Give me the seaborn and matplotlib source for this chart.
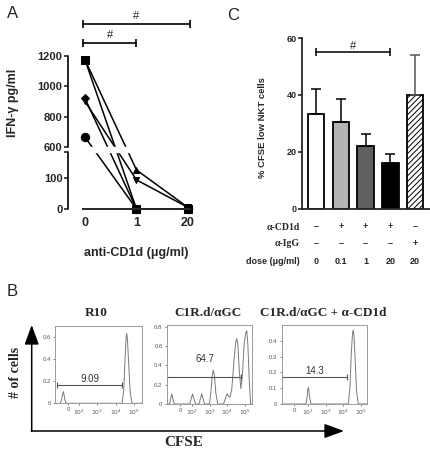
import numpy as np
import pandas as pd
import seaborn as sns
import matplotlib
matplotlib.use("Agg")
import matplotlib.pyplot as plt

# ---------------- data ----------------
# Panel A: IFN-gamma (pg/ml) per donor at anti-CD1d 0, 1, 20 ug/ml
doses_a = ["0", "1", "20"]
ifn_square = [1175, 0, 0]
ifn_up = [1175, 126, 5]
ifn_diamond = [920, 0, 0]
ifn_down = [900, 94, 5]
ifn_circle = [665, 0, 0]

# Panel C: % CFSE low NKT cells
conditions_c = ["0", "0.1", "1", "20", "IgG20"]
cfse_mean = [33.2, 30.6, 22.1, 15.9, 40.0]
cfse_sem = [8.8, 7.9, 4.1, 3.3, 13.9]
row_cd1d = ["\u2013", "+", "+", "+", "\u2013"]
row_igg = ["\u2013", "\u2013", "\u2013", "\u2013", "+"]
row_dose = ["0", "0.1", "1", "20", "20"]

# Panel B: CFSE histograms (x in decade units, y = fraction of cells)
r10_x = [0.69, 0.98, 1.05, 1.10, 1.14, 1.18, 1.23, 1.30, 4.36, 4.45, 4.52, 4.58, 4.61,
         4.65, 4.72, 4.80, 4.90, 5.43]
r10_y = [0, 0, 0.03, 0.08, 0.105, 0.08, 0.03, 0, 0, 0.12, 0.40, 0.60, 0.63,
         0.58, 0.35, 0.10, 0, 0]
gc_x = [0.54, 0.70, 0.76, 0.83, 0.90, 0.97, 1.85, 1.93, 2.02, 2.10, 2.18, 2.38, 2.46,
        2.54, 2.62, 2.70, 2.98, 3.06, 3.14, 3.20, 3.26, 3.34, 3.45, 3.78, 3.88, 3.95,
        4.00, 4.07, 4.15, 4.25, 4.38, 4.48, 4.54, 4.60, 4.68, 4.77, 4.86, 4.96, 5.05,
        5.11, 5.17, 5.25, 5.33, 5.39]
gc_y = [0, 0, 0.05, 0.105, 0.05, 0, 0, 0.05, 0.105, 0.05, 0, 0, 0.05,
        0.105, 0.05, 0, 0, 0.12, 0.30, 0.35, 0.30, 0.12, 0, 0, 0.05, 0.09,
        0.105, 0.08, 0.07, 0.15, 0.45, 0.64, 0.68, 0.62, 0.35, 0.16, 0.30, 0.62, 0.74,
        0.76, 0.62, 0.25, 0, 0]
ab_x = [0.48, 1.86, 1.93, 1.97, 2.00, 2.03, 2.08, 2.15, 4.29, 4.38, 4.46, 4.53, 4.57,
        4.61, 4.68, 4.76, 4.86, 5.34]
ab_y = [0, 0, 0.04, 0.09, 0.105, 0.09, 0.04, 0, 0, 0.10, 0.32, 0.45, 0.468,
        0.44, 0.28, 0.08, 0, 0]
hist_titles = ["R10", "C1R.d/\u03b1GC", "C1R.d/\u03b1GC + \u03b1-CD1d"]
gate_values = ["9.09", "64.7", "14.3"]
gate_ranges = [(0.81, 4.33, 0.165), (0.57, 4.77, 0.277), (0.51, 4.19, 0.17)]

# ---------------- style ----------------
sns.set_style("ticks")
plt.rcParams["font.family"] = ["Liberation Sans", "DejaVu Sans"]
plt.rcParams["hatch.linewidth"] = 0.7

W, H = 431, 451
fig = plt.figure(figsize=(W / 100, H / 100), dpi=100)


def rect(l, t, r, b):
    return [l / W, 1 - b / H, (r - l) / W, (b - t) / H]


# overlay in pixel coordinates for panel letters, arrows and free labels
ov = fig.add_axes([0, 0, 1, 1], zorder=-1)
ov.set_xlim(0, W)
ov.set_ylim(H, 0)
ov.axis("off")
ov.patch.set_alpha(0)

for letter, (lx, ly) in zip("ABC", [(13, 13), (12, 291), (233, 15)]):
    ov.text(lx, ly, letter, fontsize=12, ha="center", va="center")

# ---------------- panel A ----------------
ax_a = fig.add_axes(rect(68, 56, 195, 209))
brk_val = [-1000, 0, 184, 600, 1200, 3000]
brk_px = [-310, 0, 57, 62, 153, 426]


def fwd(v):
    return np.interp(v, brk_val, brk_px)


def inv(p):
    return np.interp(p, brk_px, brk_val)


ax_a.set_yscale("function", functions=(fwd, inv))

series_a = {"circle": ifn_circle, "diamond": ifn_diamond, "down": ifn_down,
            "up": ifn_up, "square": ifn_square}
rows = []
for name, vals in series_a.items():
    for i, v in enumerate(vals):
        rows.append({"donor": name, "pos": i, "ifn": v})
df_a = pd.DataFrame(rows)
sns.lineplot(data=df_a, x="pos", y="ifn", hue="donor", style="donor",
             markers={"circle": "o", "diamond": "D", "down": "v", "up": "^", "square": "s"},
             dashes=False, palette=["black"] * 5, markersize=6, linewidth=1.1,
             markeredgecolor="black", legend=False, ax=ax_a)
for ln in ax_a.lines:
    ln.set_clip_on(False)
    if ln.get_marker() == "D":
        ln.set_markersize(4.5)
    if ln.get_marker() in ("^", "v"):
        ln.set_markersize(5)

ax_a.axhspan(184, 600, color="white", zorder=3)
ax_a.set_xlim(-0.33, 2.136)
ax_a.set_ylim(0, 1200)
ax_a.set_yticks([0, 100, 184, 600, 800, 1000, 1200])
ax_a.set_yticklabels(["0", "100", "", "600", "800", "1000", "1200"])
ax_a.set_xticks([0, 1, 2])
ax_a.set_xticklabels(doses_a)
ax_a.tick_params(axis="x", length=0, pad=6, labelsize=9)
ax_a.tick_params(axis="y", length=3, width=1.2, pad=1, labelsize=8)
for t in ax_a.get_xticklabels() + ax_a.get_yticklabels():
    t.set_fontweight("bold")
ax_a.spines["left"].set_visible(False)
ax_a.spines["right"].set_visible(False)
ax_a.spines["top"].set_visible(False)
ax_a.spines["bottom"].set_bounds(-0.04, 2.04)
ax_a.spines["bottom"].set_linewidth(1.4)
ytr = ax_a.get_yaxis_transform()
ax_a.plot([0, 0], [0, 184], color="black", lw=1.2, transform=ytr, clip_on=False, zorder=4)
ax_a.plot([0, 0], [600, 1200], color="black", lw=1.2, transform=ytr, clip_on=False, zorder=4)
ax_a.set_xlabel("")
ax_a.set_ylabel("")

xtr = ax_a.get_xaxis_transform()
for x0, x1, yb, yt in [(-0.04, 2.04, 1.209, 1.26), (-0.04, 1.0, 1.085, 1.135)]:
    ax_a.plot([x0, x1], [yb, yb], color="black", lw=1.2, marker="|", markersize=6,
              markeredgewidth=1.2, transform=xtr, clip_on=False)
    ax_a.text((x0 + x1) / 2, yt, "#", fontsize=8, ha="center", va="center", transform=xtr)

ov.text(13, 103, "IFN-\u03b3 pg/ml", rotation=90, fontsize=9, fontweight="bold",
        ha="center", va="center")
ov.text(136, 253, "anti-CD1d (\u03bcg/ml)", fontsize=9, fontweight="bold",
        ha="center", va="center")

# ---------------- panel C ----------------
ax_c = fig.add_axes(rect(302, 38, 430, 208.7))
bar_colors = ["white", "#b4b4b4", "#606060", "black", "white"]
df_c = pd.DataFrame({"cond": conditions_c, "val": cfse_mean})
sns.barplot(data=df_c, x="cond", y="val", hue="cond", palette=bar_colors, width=0.665,
            edgecolor="black", linewidth=1.3, legend=False, ax=ax_c)
ax_c.patches[4].set_hatch("//////")
err_colors = ["black", "black", "black", "black", "#555555"]
for i, (m, s) in enumerate(zip(cfse_mean, cfse_sem)):
    ax_c.errorbar(i, m, yerr=[[0], [s]], color=err_colors[i], lw=1.1, capsize=3.5,
                  capthick=1.1, zorder=1)
ax_c.set_xlim(-0.565, 4.6)
ax_c.set_ylim(0, 60)
ax_c.set_yticks([0, 20, 40, 60])
ax_c.set_xticks([])
ax_c.set_xlabel("")
ax_c.set_ylabel("")
ax_c.tick_params(axis="y", length=3, width=1.2, pad=1, labelsize=6.5)
for t in ax_c.get_yticklabels():
    t.set_fontweight("bold")
sns.despine(ax=ax_c)
ax_c.spines["left"].set_linewidth(1.3)
ax_c.spines["bottom"].set_linewidth(1.3)
ctr = ax_c.get_xaxis_transform()
ax_c.plot([0, 3], [0.917, 0.917], color="black", lw=1.1, marker="|", markersize=6,
          markeredgewidth=1.1, transform=ctr, clip_on=False)
ax_c.text(1.5, 0.955, "#", fontsize=8, ha="center", va="center", transform=ctr)
ov.text(263, 128, "% CFSE low NKT cells", rotation=90, fontsize=6.8, fontweight="bold",
        ha="center", va="center")

row_y = [227, 243.5, 261]
ov.text(300, row_y[0], "\u03b1-CD1d", fontsize=7, fontweight="bold", ha="right",
        va="center", family=["Liberation Serif", "DejaVu Serif"])
ov.text(300, row_y[1], "\u03b1-IgG", fontsize=7, fontweight="bold", ha="right",
        va="center", family=["Liberation Serif", "DejaVu Serif"])
ov.text(300, row_y[2], "dose (\u03bcg/ml)", fontsize=6.5, fontweight="bold", ha="right",
        va="center")
for i in range(len(conditions_c)):
    xc = ctr.transform((i, 0))[0]
    xc_px = xc / fig.dpi * 100
    for ry, vals in zip(row_y, [row_cd1d, row_igg, row_dose]):
        ov.text(xc_px, ry, vals[i], fontsize=6.5, fontweight="bold", ha="center",
                va="center")

# ---------------- panel B ----------------
boxes = [rect(55, 325.7, 141.7, 403.3), rect(166.7, 325, 251.7, 404),
         rect(281.7, 325, 366.7, 404)]
curves = [(r10_x, r10_y), (gc_x, gc_y), (ab_x, ab_y)]
xlims = [(0.69, 5.43), (0.54, 5.39), (0.48, 5.34)]
zero_pos = [1.4, 1.3, 1.18]
ylims = [0.70, 0.82, 0.5]
yticks_b = [[0, 0.2, 0.4, 0.6], [0, 0.2, 0.4, 0.6, 0.8], [0, 0.1, 0.2, 0.3, 0.4]]
label_pos = [(2.6, 0.215), (2.73, 0.463), (2.38, 0.21)]
title_x = [96, 208, 323]
for k in range(3):
    ax = fig.add_axes(boxes[k])
    cx, cy = curves[k]
    sns.lineplot(x=cx, y=cy, color="#7a7a7a", lw=0.7, sort=False, ax=ax)
    ax.set_xlim(*xlims[k])
    ax.set_ylim(0, ylims[k])
    ax.set_xticks([zero_pos[k], 2, 3, 4, 5])
    ax.set_xticklabels(["0", "$10^2$", "$10^3$", "$10^4$", "$10^5$"])
    ax.set_yticks(yticks_b[k])
    ax.set_yticklabels(["0" if v == 0 else f"{v:g}" for v in yticks_b[k]])
    ax.tick_params(length=1.5, width=0.5, pad=1.5, labelsize=4.3, colors="#555555")
    for sp in ax.spines.values():
        sp.set_color("#9a9a9a")
        sp.set_linewidth(0.7)
    x0, x1, gy = gate_ranges[k]
    ax.plot([x0, x1], [gy, gy], color="#555555", lw=0.8, marker="|", markersize=4,
            markeredgewidth=0.8)
    lx, ly = label_pos[k]
    ax.text(lx, ly, gate_values[k], fontsize=7, color="#333333", ha="center", va="center")
    ov.text(title_x[k], 313, hist_titles[k], fontsize=9.5, fontweight="bold", ha="center",
            va="center", family=["Liberation Serif", "DejaVu Serif"])

arrow_kw = dict(arrowstyle="-|>,head_length=0.6,head_width=0.22", lw=1.1, color="black",
                mutation_scale=20, shrinkA=0, shrinkB=0)
ov.annotate("", xy=(31.7, 325), xytext=(31.7, 431), arrowprops=arrow_kw)
ov.annotate("", xy=(344, 431), xytext=(31.2, 431), arrowprops=arrow_kw)
ov.text(16, 372, "# of cells", rotation=90, fontsize=10, fontweight="bold", ha="center",
        va="center", family=["Liberation Serif", "DejaVu Serif"])
ov.text(184, 443, "CFSE", fontsize=11, fontweight="bold", ha="center", va="center",
        family=["Liberation Serif", "DejaVu Serif"])

fig.savefig("out.png", dpi=100)
